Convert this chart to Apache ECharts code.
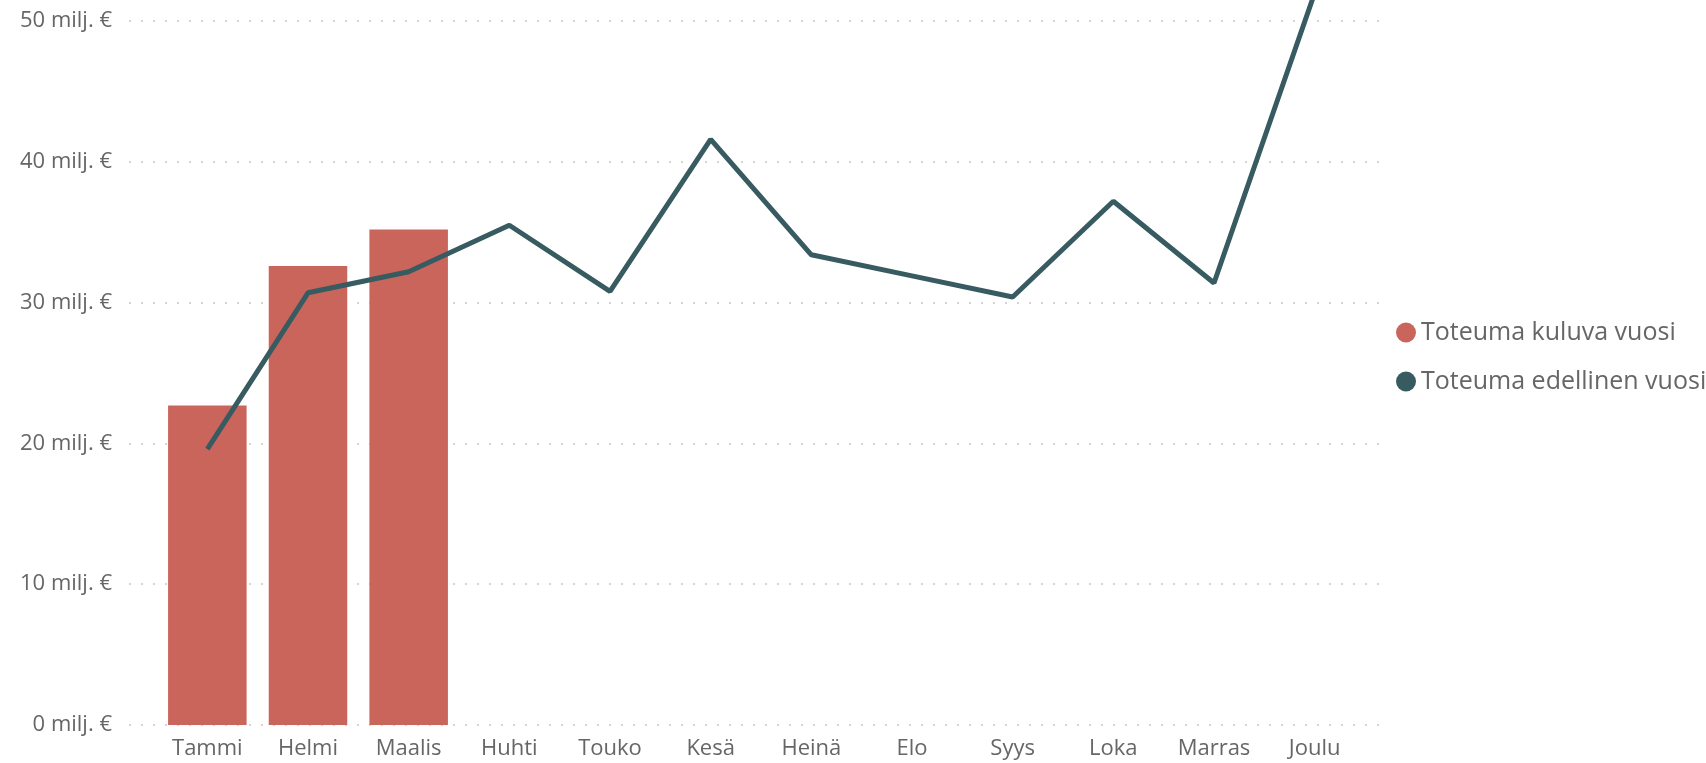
<!DOCTYPE html>
<html>
<head>
<meta charset="utf-8">
<script src="https://cdn.jsdelivr.net/npm/echarts@6/dist/echarts.min.js"></script>
<style>
  html, body { margin: 0; padding: 0; background: #fff; }
  #main { width: 1706px; height: 763px; }
</style>
</head>
<body>
<div id="main"></div>
<script>
var months = ['Tammi', 'Helmi', 'Maalis', 'Huhti', 'Touko', 'Kesä', 'Heinä', 'Elo', 'Syys', 'Loka', 'Marras', 'Joulu'];
// milj. €
var kuluvaVuosi = [22.7, 32.6, 35.2, null, null, null, null, null, null, null, null, null];
var edellinenVuosi = [19.6, 30.7, 32.2, 35.5, 30.8, 41.6, 33.4, 31.9, 30.4, 37.2, 31.4, 52];
var yTicks = [0, 10, 20, 30, 40, 50];

var font = '"Segoe UI", "Open Sans", sans-serif';
var barColor = '#CA655C';
var lineColor = '#375B60';
var yMax = 51.5; // plot runs off the top of the picture

var myChart = echarts.init(document.getElementById('main'));
var option = {
    animation: false,
    legend: {
        orient: 'vertical',
        left: 1391,
        top: 315,
        icon: 'circle',
        itemWidth: 20,
        itemHeight: 20,
        itemGap: 24,
        textStyle: { fontFamily: font, fontSize: 25, color: '#666' },
        data: ['Toteuma kuluva vuosi', 'Toteuma edellinen vuosi']
    },
    grid: [
        // gridlines + y labels
        { left: 129, right: 319, top: 0, bottom: 38 },
        // data
        { left: 157, right: 341, top: 0, bottom: 38 }
    ],
    xAxis: [
        { gridIndex: 0, type: 'value', show: false, min: 0, max: 1 },
        {
            gridIndex: 1,
            type: 'category',
            data: months,
            axisLine: { show: false },
            axisTick: { show: false },
            axisLabel: { fontFamily: font, fontSize: 22, color: '#666', margin: 13 }
        }
    ],
    yAxis: [
        {
            gridIndex: 0,
            type: 'value',
            min: 0, max: yMax, interval: 10,
            axisLine: { show: false },
            axisTick: { show: false },
            axisLabel: {
                fontFamily: font, fontSize: 22, color: '#666', margin: 17,
                showMaxLabel: false,
                formatter: function (v) { return yTicks.indexOf(v) >= 0 ? v + ' milj. €' : ''; }
            },
            splitLine: { showMaxLine: false, lineStyle: { color: '#c8c8c8', width: 1.5, type: [2, 10] } }
        },
        {
            gridIndex: 1,
            type: 'value',
            min: 0, max: yMax,
            show: false,
            splitLine: { show: false }
        }
    ],
    series: [
        {
            name: 'Toteuma kuluva vuosi',
            type: 'bar',
            xAxisIndex: 1, yAxisIndex: 1,
            barCategoryGap: '22%',
            itemStyle: { color: barColor },
            data: kuluvaVuosi
        },
        {
            name: 'Toteuma edellinen vuosi',
            type: 'line',
            xAxisIndex: 1, yAxisIndex: 1,
            symbol: 'none',
            itemStyle: { color: lineColor },
            lineStyle: { color: lineColor, width: 5 },
            data: edellinenVuosi
        }
    ]
};
myChart.setOption(option);
</script>
</body>
</html>
